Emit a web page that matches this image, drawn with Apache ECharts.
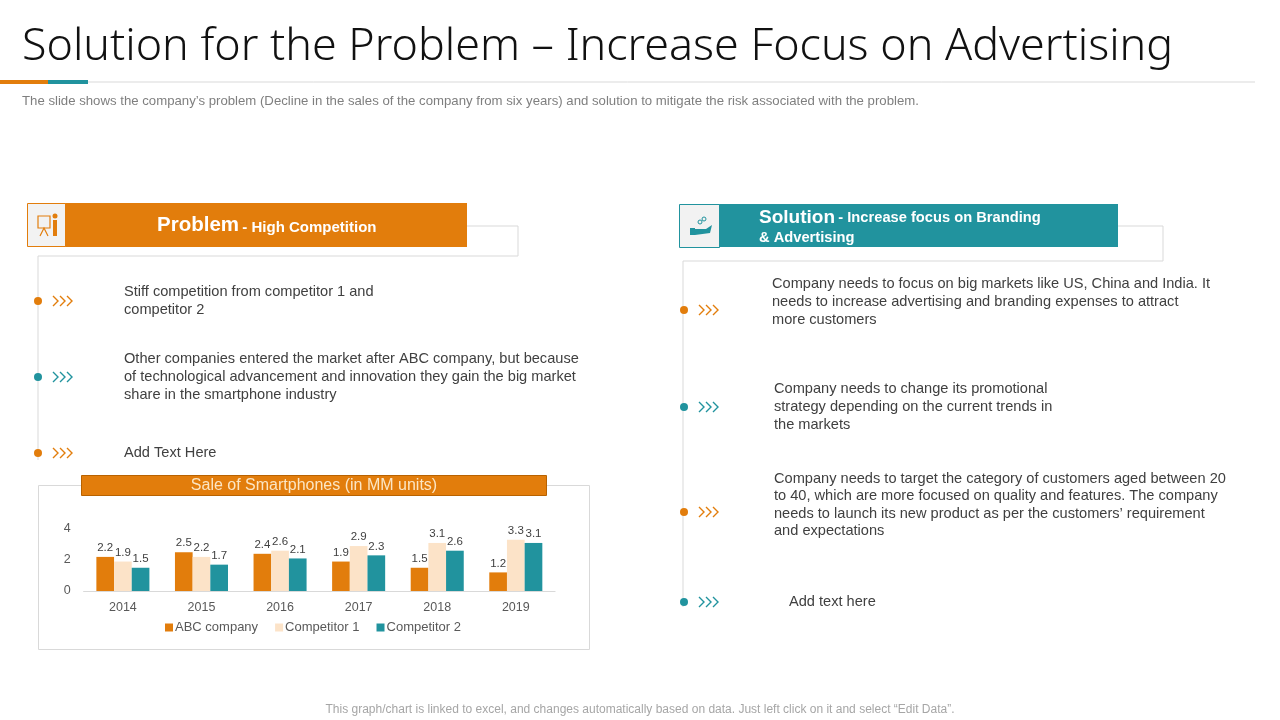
<!DOCTYPE html>
<html>
<head>
<meta charset="utf-8">
<title>Solution for the Problem</title>
<script src="https://cdn.jsdelivr.net/npm/echarts@6/dist/echarts.min.js"></script>
<style>
  html, body { margin: 0; padding: 0; background: #fff; }
  #main { width: 1280px; height: 720px; }
</style>
</head>
<body>
<div id="main"></div>
<script>
// chart data
const years = ['2014', '2015', '2016', '2017', '2018', '2019'];
const abcCompany = [2.2, 2.5, 2.4, 1.9, 1.5, 1.2];
const competitor1 = [1.9, 2.2, 2.6, 2.9, 3.1, 3.3];
const competitor2 = [1.5, 1.7, 2.1, 2.3, 2.6, 3.1];
const seriesNames = ['ABC company', 'Competitor 1', 'Competitor 2'];
const yTicks = [0, 2, 4];

const ORANGE = '#E27D0C';
const PEACH = '#FCE3C8';
const TEAL = '#21939E';
const TEXT = '#404040';
const BODY_FONT = '"Liberation Sans", Arial, sans-serif';

const problemItems = [
    { y: 301, color: ORANGE, text: 'Stiff competition from competitor 1 and\ncompetitor 2', tx: 124 },
    { y: 377, color: TEAL, text: 'Other companies entered the market after ABC company, but because\nof technological advancement and innovation they gain the big market\nshare in the smartphone industry', tx: 124 },
    { y: 453, color: ORANGE, text: 'Add Text Here', tx: 124 },
];
const solutionItems = [
    { y: 302, color: ORANGE, text: 'Company needs to focus on big markets like US, China and India. It\nneeds to increase advertising and branding expenses to attract\nmore customers', tx: 772, dotY: 310 },
    { y: 407, color: TEAL, text: 'Company needs to change its promotional\nstrategy depending on the current trends in\nthe markets', tx: 774, dotY: 407 },
    { y: 505, color: ORANGE, text: 'Company needs to target the category of customers aged between 20\nto 40, which are more focused on quality and features. The company\nneeds to launch its new product as per the customers\u2019 requirement\nand expectations', tx: 774, dotY: 512 },
    { y: 602, color: TEAL, text: 'Add text here', tx: 789, dotY: 602 },
];

function bullet(dotX, item) {
    const dy = item.dotY || item.y;
    const els = [{
        type: 'circle',
        shape: { cx: dotX, cy: dy, r: 4 },
        style: { fill: item.color },
        z: 5,
    }];
    for (let i = 0; i < 3; i++) {
        const x0 = dotX + 15 + i * 7;
        els.push({
            type: 'polyline',
            shape: { points: [[x0, dy - 5], [x0 + 5, dy], [x0, dy + 5]] },
            style: { stroke: item.color, lineWidth: 1.4, fill: null },
        });
    }
    const lines = item.text.split('\n').length;
    els.push({
        type: 'text',
        left: item.tx,
        top: item.y - lines * 17.6 / 2,
        style: {
            text: item.text,
            font: '14.6px ' + BODY_FONT,
            fill: TEXT,
            lineHeight: 17.6,
        },
    });
    return els;
}

const graphics = [
    // title
    {
        type: 'text', left: 22, top: 25,
        style: { text: 'Solution for the Problem \u2013 Increase Focus on Advertising', font: '300 44.8px "Noto Sans", Lato, sans-serif', fill: '#111' },
    },
    { type: 'line', shape: { x1: 0, y1: 82, x2: 1255, y2: 82 }, style: { stroke: '#D9D9D9', lineWidth: 1 } },
    { type: 'rect', shape: { x: 0, y: 80, width: 48, height: 4 }, style: { fill: ORANGE } },
    { type: 'rect', shape: { x: 48, y: 80, width: 40, height: 4 }, style: { fill: TEAL } },
    {
        type: 'text', left: 22, top: 95,
        style: { text: 'The slide shows the company\u2019s problem (Decline in the sales of the company from six years) and solution to mitigate the risk associated with the problem.', font: '13.2px ' + BODY_FONT, fill: '#7F7F7F' },
    },
    {
        type: 'text', x: 640, y: 710,
        style: { text: 'This graph/chart is linked to excel, and changes automatically based on data. Just left click on it and select \u201cEdit Data\u201d.', font: '12px ' + BODY_FONT, fill: '#A6A6A6', align: 'center', verticalAlign: 'middle' },
    },

    // problem header
    { type: 'polyline', shape: { points: [[467, 226], [518, 226], [518, 256], [38, 256], [38, 460]] }, style: { stroke: '#D9D9D9', lineWidth: 1, fill: null } },
    { type: 'rect', shape: { x: 64, y: 203, width: 403, height: 44 }, style: { fill: ORANGE } },
    { type: 'rect', shape: { x: 27.5, y: 203.5, width: 38, height: 43 }, style: { fill: '#F2F2F2', stroke: ORANGE, lineWidth: 1 } },
    { type: 'rect', shape: { x: 38, y: 216, width: 12, height: 12 }, style: { fill: null, stroke: ORANGE, lineWidth: 1.2 } },
    { type: 'circle', shape: { cx: 55, cy: 216, r: 2.5 }, style: { fill: ORANGE } },
    { type: 'rect', shape: { x: 53, y: 220, width: 4, height: 16 }, style: { fill: ORANGE } },
    { type: 'polyline', shape: { points: [[40, 236], [44, 228], [48, 236]] }, style: { stroke: ORANGE, lineWidth: 1.2, fill: null } },
    {
        type: 'text', left: 157, top: 215,
        style: {
            text: '{a|Problem} {b|- High Competition}',
            rich: {
                a: { font: 'bold 20.5px ' + BODY_FONT, fill: '#fff' },
                b: { font: 'bold 15px ' + BODY_FONT, fill: '#fff', padding: [4, 0, 0, 0] },
            },
        },
    },

    // solution header
    { type: 'polyline', shape: { points: [[1118, 226], [1163, 226], [1163, 261], [683, 261], [683, 607]] }, style: { stroke: '#D9D9D9', lineWidth: 1, fill: null } },
    { type: 'rect', shape: { x: 718, y: 204, width: 400, height: 43 }, style: { fill: TEAL } },
    { type: 'rect', shape: { x: 679.5, y: 204.5, width: 40, height: 43 }, style: { fill: '#F2F2F2', stroke: TEAL, lineWidth: 1 } },
    { type: 'rect', shape: { x: 690, y: 228, width: 5, height: 7 }, style: { fill: TEAL } },
    { type: 'polygon', shape: { points: [[695, 229], [706, 229], [712, 225], [710, 233], [695, 235]] }, style: { fill: TEAL } },
    { type: 'circle', shape: { cx: 700, cy: 222, r: 2 }, style: { fill: null, stroke: TEAL, lineWidth: 1 } },
    { type: 'circle', shape: { cx: 704, cy: 219, r: 2 }, style: { fill: null, stroke: TEAL, lineWidth: 1 } },
    {
        type: 'text', left: 759, top: 208,
        style: {
            text: '{a|Solution} {b|- Increase focus on Branding}\n{c|& Advertising}',
            rich: {
                a: { font: 'bold 19px ' + BODY_FONT, fill: '#fff', lineHeight: 21 },
                b: { font: 'bold 14.7px ' + BODY_FONT, fill: '#fff', lineHeight: 21 },
                c: { font: 'bold 14.7px ' + BODY_FONT, fill: '#fff', lineHeight: 20 },
            },
        },
    },

    // chart frame
    { type: 'rect', shape: { x: 38.5, y: 485.5, width: 551, height: 164 }, style: { fill: null, stroke: '#D9D9D9', lineWidth: 1 } },
    { type: 'rect', shape: { x: 81.5, y: 475.5, width: 465, height: 20 }, style: { fill: ORANGE, stroke: '#B86200', lineWidth: 1 } },
    {
        type: 'text', x: 314, y: 486,
        style: { text: 'Sale of Smartphones (in MM units)', font: '16px ' + BODY_FONT, fill: '#FCE6C4', align: 'center', verticalAlign: 'middle' },
    },
];
problemItems.forEach(it => graphics.push(...bullet(38, it)));
solutionItems.forEach(it => graphics.push(...bullet(684, it)));

const labelStyle = {
    show: true,
    position: 'top',
    distance: 3,
    fontSize: 11.5,
    color: TEXT,
    fontFamily: BODY_FONT,
};

const chart = echarts.init(document.getElementById('main'));
chart.setOption({
    animation: false,
    graphic: graphics,
    grid: { left: 83.6, top: 529, width: 471.5, height: 62 },
    legend: {
        data: seriesNames,
        left: 160,
        top: 616,
        itemWidth: 8,
        itemHeight: 8,
        itemGap: 17,
        icon: 'rect',
        textStyle: { fontSize: 13, color: '#595959', fontFamily: BODY_FONT, padding: [0, 0, 0, -3] },
    },
    xAxis: {
        type: 'category',
        data: years,
        axisLine: { lineStyle: { color: '#D9D9D9' } },
        axisTick: { show: false },
        axisLabel: { fontSize: 12.5, color: '#595959', fontFamily: BODY_FONT, margin: 10 },
    },
    yAxis: {
        type: 'value',
        min: yTicks[0],
        max: yTicks[yTicks.length - 1],
        interval: 2,
        splitLine: { show: false },
        axisLine: { show: false },
        axisTick: { show: false },
        axisLabel: { fontSize: 12.5, color: '#595959', fontFamily: BODY_FONT, margin: 13 },
    },
    series: [
        { name: seriesNames[0], type: 'bar', data: abcCompany, itemStyle: { color: ORANGE }, barGap: '0%', barCategoryGap: '32.5%', label: labelStyle },
        { name: seriesNames[1], type: 'bar', data: competitor1, itemStyle: { color: PEACH }, label: labelStyle },
        { name: seriesNames[2], type: 'bar', data: competitor2, itemStyle: { color: TEAL }, label: labelStyle },
    ],
});
</script>
</body>
</html>
